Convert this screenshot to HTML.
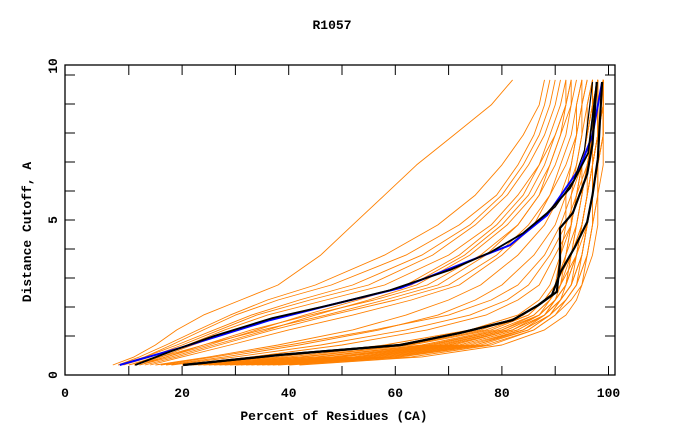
<!DOCTYPE html>
<html><head><meta charset="utf-8"><style>
html,body{margin:0;padding:0;background:#fff;}
svg{display:block;font-family:"Liberation Mono","DejaVu Sans Mono",monospace;font-weight:bold;}
</style></head><body>
<svg id="chart" width="680" height="440" viewBox="0 0 680 440" xmlns="http://www.w3.org/2000/svg">
<text x="332" y="29" font-size="13" text-anchor="middle">R1057</text>
<text x="334" y="420" font-size="13" text-anchor="middle">Percent of Residues (CA)</text>
<text transform="translate(31,232) rotate(-90)" font-size="13" text-anchor="middle">Distance Cutoff, A</text>
<g id="series"></g>
<g id="axes"></g>
</svg>
<script>
// Data
const yLevels = [0,0.28,0.69,1.21,1.72,2.24,2.76,3.79,4.83,5.86,6.9,7.93,8.97,9.83];
const upperCurves = [
 [7,11,15,19,24,31,38,46,52,58,64,71,78,82],
 [8,13,18,24,30,38,48,62,72,79,83,86,88,89],
 [9,14,20,27,34,44,55,67,75,81,85,88,90,91],
 [10,15,21,28,36,47,58,70,78,83,87,89,91,92],
 [8,12,17,23,29,36,45,58,68,75,80,84,87,88],
 [11,16,22,30,40,52,63,73,80,85,88,90,92,93],
 [12,17,24,33,44,56,66,76,83,87,90,92,93,94],
 [9,13,19,26,33,42,52,65,74,80,84,87,89,90],
 [13,19,27,37,48,60,70,79,85,89,91,93,94,95],
 [10,16,24,35,47,58,68,77,83,87,89,91,93,93],
 [14,20,29,40,52,63,72,80,86,89,92,94,95,96],
 [11,17,25,34,43,53,62,72,79,84,87,90,92,92],
 [12,18,26,36,45,55,64,74,81,86,89,91,92,93]
];
const middleCurves = [
 [15,25,38,52,62,70,76,83,88,91,93,94,95,96],
 [17,28,42,57,68,75,80,86,90,92,94,95,96,97],
 [16,26,40,56,70,78,83,88,91,93,95,96,97,97],
 [18,30,46,62,74,81,85,89,92,94,95,96,97,98],
 [20,33,50,66,77,83,87,90,93,94,96,97,97,98]
];
const lowerCurves = [
 [20,38,58,74,83,87,89,91,93,94,95,96,97,97],
 [22,42,62,77,85,88,90,92,94,95,96,97,98,98],
 [24,45,65,79,86,89,91,93,95,96,97,98,98,99],
 [26,48,67,80,87,90,92,94,95,96,97,98,98,99],
 [28,50,69,81,87,90,92,94,95,96,97,98,98,99],
 [30,53,71,82,88,91,93,95,96,97,97,98,99,99],
 [32,55,72,83,88,91,93,95,96,97,98,98,99,99],
 [34,57,74,84,89,92,94,95,96,97,98,98,99,99],
 [36,59,75,85,89,92,94,96,97,97,98,99,99,99],
 [38,61,77,86,90,92,94,96,97,98,98,99,99,99],
 [40,63,78,86,90,93,95,96,97,98,98,99,99,99],
 [21,40,60,76,84,88,90,93,95,96,97,97,98,98],
 [25,46,66,80,86,89,91,94,95,96,97,98,98,99],
 [29,52,70,82,88,90,92,94,96,97,97,98,98,98],
 [33,56,73,84,89,91,93,95,96,97,97,98,98,98],
 [37,60,76,85,89,91,92,93,94,95,96,97,97,98],
 [23,43,63,78,85,88,90,92,93,94,95,96,97,97],
 [27,49,68,81,87,90,92,93,94,95,95,96,96,97],
 [42,65,80,88,92,94,95,97,98,98,99,99,99,99],
 [31,54,72,83,88,91,93,94,95,96,96,97,97,97],
 [35,58,75,84,88,90,91,92,93,93,94,95,95,95],
 [30,50,70,82,87,89,90,91,92,92,93,94,94,95]
];
const blackAX = [20.2,38.4,61,72,82,86.8,90.3,90.9,90.9,93.3,96,97,97.8];
const blackAY = [0,0.35,0.69,1.1,1.55,2.06,2.52,3.55,4.72,5.24,6.59,7.62,9.76];
const blackBX = [20.2,38.4,61,72,82,86.8,89.4,91,93.7,96,97,98,98.8];
const blackBY = [0,0.35,0.69,1.1,1.55,2.06,2.42,3.2,4.07,4.93,5.86,7.1,9.76];
const blackCX = [11.2,18,26,37,47.8,59,70.3,78,84,88.5,92.8,96.2,97.8];
const blackCY = [0,0.48,1.0,1.62,2.07,2.58,3.28,3.9,4.55,5.24,6.1,7.31,9.76];
const blackDX = [84,90,93.5,95.5,97];
const blackDY = [4.55,5.45,6.38,7.41,9.76];
const blueX = [8.3,19.6,36.5,47.8,61,72,81.5,88.5,94.6,97,98.8];
const blueY = [0,0.59,1.55,2.07,2.66,3.45,4.13,5.17,6.79,7.93,9.76];
const xTicks = [10,20,30,40,50,60,70,80,90,100];
const xTickLabels = ["0","20","40","60","80","100"];
const xTickLabelVals = [0,20,40,60,80,100];
const yTicks = [1,2,3,4,5,6,7,8,9,10];
const yTickLabels = ["0","5","10"];
const yTickLabelVals = [0,5,10];

// Scales
const X = v => 75.5 + 5.33*v;
const Y = v => 365 - 29*v;
const NS = "http://www.w3.org/2000/svg";
const series = document.getElementById('series');
const axes = document.getElementById('axes');
function poly(xs, ys, color, w, parent){
  const p = document.createElementNS(NS,'polyline');
  p.setAttribute('points', xs.map((x,i)=>X(x).toFixed(1)+','+Y(ys[i]).toFixed(1)).join(' '));
  p.setAttribute('fill','none'); p.setAttribute('stroke',color); p.setAttribute('stroke-width',w);
  p.setAttribute('stroke-linejoin','round');
  parent.appendChild(p); return p;
}
[...upperCurves, ...middleCurves, ...lowerCurves].forEach(c=>{
  const p = poly(c, yLevels, '#ff8000', 0.9, series);
  
  
});
let p;
p = poly(blueX, blueY, '#0000ff', 2, series);


p = poly(blackCX, blackCY, '#000', 1.8, series);


p = poly(blackDX, blackDY, '#000', 1.2, series);


p = poly(blackAX, blackAY, '#000', 2.2, series);


p = poly(blackBX, blackBY, '#000', 2.2, series);



// Axes frame
const r = document.createElementNS(NS,'rect');
r.setAttribute('x',65); r.setAttribute('y',65); r.setAttribute('width',550); r.setAttribute('height',310);
r.setAttribute('fill','none'); r.setAttribute('stroke','#000'); r.setAttribute('stroke-width',1.3);


axes.appendChild(r);
function line(x1,y1,x2,y2){
  const l = document.createElementNS(NS,'line');
  l.setAttribute('x1',x1);l.setAttribute('y1',y1);l.setAttribute('x2',x2);l.setAttribute('y2',y2);
  l.setAttribute('stroke','#000');l.setAttribute('stroke-width',1);
  axes.appendChild(l); return l;
}
xTicks.forEach(v=>{
  let t = line(X(v),375,X(v),366);
  
  
  t = line(X(v),65,X(v),75);
  
  
});
yTicks.forEach(v=>{
  let t = line(65,Y(v),75,Y(v));
  
  
  t = line(615,Y(v),605,Y(v));
  
  
});
xTickLabelVals.forEach((v,i)=>{
  const t = document.createElementNS(NS,'text');
  t.setAttribute('x', v===0 ? 65 : X(v)); t.setAttribute('y', 397);
  t.setAttribute('font-size', 13); t.setAttribute('text-anchor','middle');
  t.textContent = xTickLabels[i];
  
  
  axes.appendChild(t);
});
const yLabelPos = v => v===0 ? 375 : (v===10 ? 66 : Y(v));
yTickLabelVals.forEach((v,i)=>{
  const t = document.createElementNS(NS,'text');
  t.setAttribute('transform', 'translate(57,'+yLabelPos(v)+') rotate(-90)');
  t.setAttribute('font-size', 13); t.setAttribute('text-anchor','middle');
  t.textContent = yTickLabels[i];
  
  
  axes.appendChild(t);
});
</script>
</body></html>
